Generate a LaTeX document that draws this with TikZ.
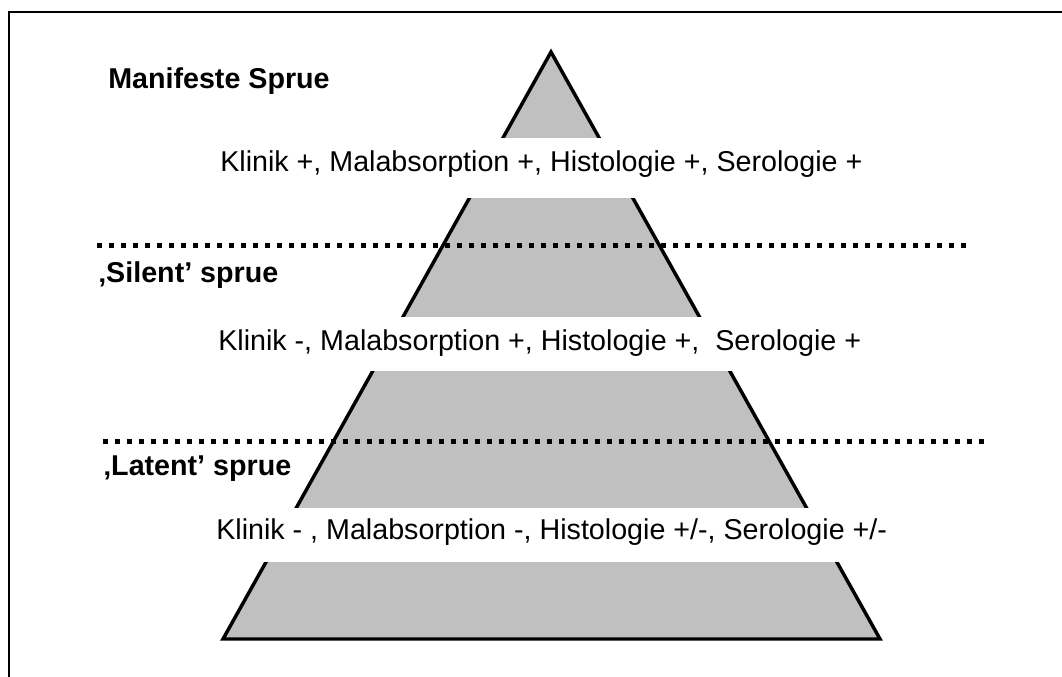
\documentclass[tikz,border=0pt]{standalone}
\usepackage{fontspec}
\setmainfont{Liberation Sans}
\begin{document}
\begin{tikzpicture}[x=0.75pt,y=-0.75pt,
  frameline/.style={line width=1.5pt,black},
  pyr/.style={line width=2.6pt,fill={rgb,255:red,192;green,192;blue,192},line join=miter},
  band/.style={fill=white},
  dotline/.style={line width=3.75pt,dash pattern=on 3.75pt off 5.25pt},
  rowtext/.style={anchor=base west,inner sep=0pt,font=\fontsize{21.5}{26}\selectfont},
  headtext/.style={anchor=base west,inner sep=0pt,font=\fontsize{21.5}{26}\selectfont\bfseries}]
\useasboundingbox (0,0) rectangle (1062,677);
% frame (top and left only)
\coordinate (fTL) at (9,12);
\coordinate (fTR) at (1062,12);
\coordinate (fBL) at (9,677);
\draw[frameline] (fTR) -- (fTL) -- (fBL);
% pyramid
\coordinate (apex) at (551,52);
\coordinate (bl) at (223,639);
\coordinate (br) at (880,639);
\draw[pyr] (apex) -- (br) -- (bl) -- cycle;
% white bands
\fill[band] (200,138) rectangle (920,198);
\fill[band] (200,317) rectangle (920,371);
\fill[band] (200,508) rectangle (940,562);
% dotted lines
\coordinate (d1a) at (97,245);
\coordinate (d1b) at (970,245);
\coordinate (d2a) at (103,441);
\coordinate (d2b) at (987,441);
\draw[dotline] (d1a) -- (d1b);
\draw[dotline] (d2a) -- (d2b);
% headings
\node[headtext] (h1) at (108,89) {Manifeste Sprue};
\node[headtext] (h2) at (98,282) {‚Silent’ sprue};
\node[headtext] (h3) at (103,475) {‚Latent’ sprue};
% row texts
\node[rowtext] (r1) at (220,172) {Klinik +, Malabsorption +, Histologie +, Serologie +};
\node[rowtext] (r2) at (218,350) {Klinik -, Malabsorption +, Histologie +,\ \ Serologie +};
\node[rowtext] (r3) at (216,539) {Klinik - , Malabsorption -, Histologie +/-, Serologie +/-};
\end{tikzpicture}
\end{document}
